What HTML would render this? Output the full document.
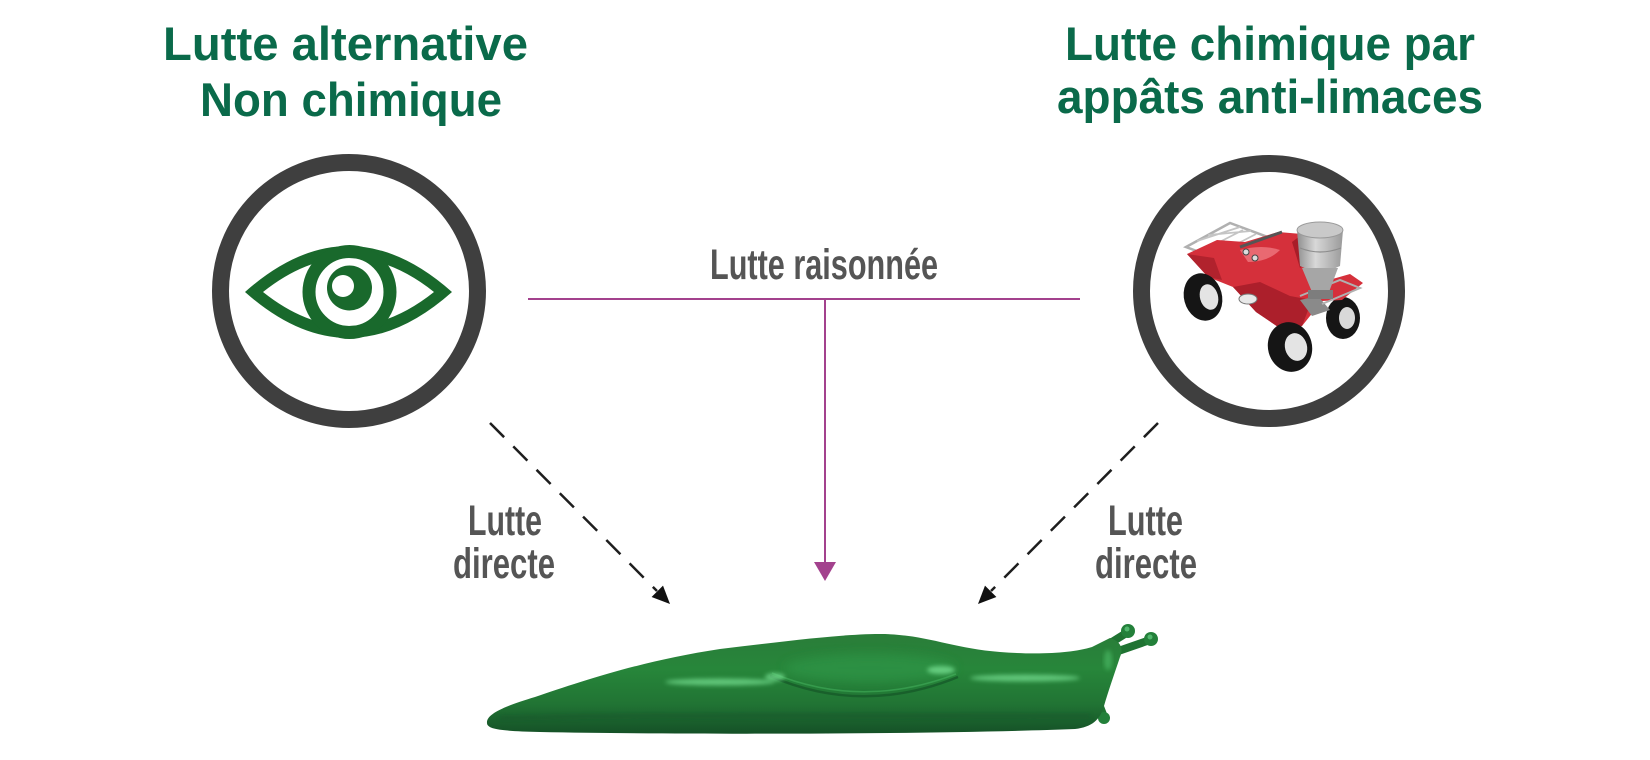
<!DOCTYPE html>
<html>
<head>
<meta charset="utf-8">
<style>
  html, body { margin: 0; padding: 0; background: #ffffff; }
  body { width: 1650px; height: 760px; overflow: hidden; }
  svg { display: block; }
  .title { font-family: "Liberation Sans", sans-serif; font-weight: bold; font-size: 47px; fill: #0a6a4a; }
  .lbl { font-family: "Liberation Sans Narrow", "Liberation Sans", sans-serif; font-weight: bold; font-size: 43px; fill: #555555; }
</style>
</head>
<body>
<svg width="1650" height="760" viewBox="0 0 1650 760" xmlns="http://www.w3.org/2000/svg">
  <defs>
    <linearGradient id="slugG" x1="0" y1="0" x2="0" y2="1">
      <stop offset="0" stop-color="#2a7d39"/>
      <stop offset="0.35" stop-color="#27863a"/>
      <stop offset="0.7" stop-color="#217434"/>
      <stop offset="1" stop-color="#155127"/>
    </linearGradient>
    <linearGradient id="hopG" x1="0" y1="0" x2="1" y2="0">
      <stop offset="0" stop-color="#8f8f8f"/>
      <stop offset="0.4" stop-color="#d8d8d8"/>
      <stop offset="1" stop-color="#9a9a9a"/>
    </linearGradient>
    <filter id="blur2" x="-20%" y="-200%" width="140%" height="500%"><feGaussianBlur stdDeviation="2"/></filter>
    <filter id="blur5" x="-30%" y="-100%" width="160%" height="300%"><feGaussianBlur stdDeviation="5"/></filter>
  </defs>

  <!-- Titles -->
  <text class="title" x="163" y="60" textLength="365" lengthAdjust="spacingAndGlyphs">Lutte alternative</text>
  <text class="title" x="200" y="116" textLength="302" lengthAdjust="spacingAndGlyphs">Non chimique</text>
  <text class="title" x="1065" y="60" textLength="410" lengthAdjust="spacingAndGlyphs">Lutte chimique par</text>
  <text class="title" x="1057" y="113" textLength="426" lengthAdjust="spacingAndGlyphs">appâts anti-limaces</text>

  <!-- Left circle with eye -->
  <circle cx="349" cy="291" r="128.5" fill="#ffffff" stroke="#3f3f3f" stroke-width="17"/>
  <path fill="#19692c" fill-rule="evenodd"
        d="M245,292 Q348.5,200 452,292 Q348.5,384 245,292 Z
           M263,292 Q348.5,224 434,292 Q348.5,360 263,292 Z"/>
  <circle cx="349.5" cy="292" r="40.5" fill="none" stroke="#19692c" stroke-width="13"/>
  <circle cx="349.5" cy="288" r="22.5" fill="#19692c"/>
  <circle cx="343" cy="286" r="11" fill="#ffffff"/>

  <!-- Right circle with ATV -->
  <circle cx="1269" cy="291" r="127.5" fill="#ffffff" stroke="#3f3f3f" stroke-width="17"/>
  <g>
    <!-- far right wheel -->
    <ellipse cx="1343" cy="318" rx="17" ry="21" fill="#151515"/>
    <ellipse cx="1347" cy="318" rx="8" ry="11" fill="#d9d9d9"/>
    <!-- rear rack -->
    <path d="M1186,247 L1230,223 L1273,239 L1229,263 Z" fill="none" stroke="#b0b0b0" stroke-width="2.5"/>
    <path d="M1197,241 L1240,227 M1208,235 L1251,231 M1200,252 L1243,230 M1212,257 L1256,234" stroke="#c4c4c4" stroke-width="1.8" fill="none"/>
    <!-- red body -->
    <path d="M1187,254 L1217,240 L1245,242 L1278,232 L1302,234 L1309,262 L1322,282 L1350,274 L1363,283 L1342,300 L1322,301 L1302,326 L1284,331 L1256,312 L1233,287 L1208,277 Z" fill="#d5303b"/>
    <path d="M1233,287 L1256,312 L1284,331 L1302,326 L1312,300 L1290,296 L1260,282 Z" fill="#ac1f2b"/>
    <path d="M1187,254 L1208,277 L1222,280 L1214,258 Z" fill="#b1222d"/>
    <path d="M1300,236 L1309,262 L1300,268 L1292,242 Z" fill="#a81d28"/>
    <path d="M1240,250 Q1262,244 1280,250 Q1268,262 1248,262 Z" fill="#ee7880" opacity="0.8"/>
    <!-- handlebars -->
    <path d="M1240,247 L1282,232" stroke="#555" stroke-width="3" fill="none"/>
    <circle cx="1246" cy="252" r="3" fill="#ddd" stroke="#444" stroke-width="1"/>
    <circle cx="1255" cy="258" r="3" fill="#ddd" stroke="#444" stroke-width="1"/>
    <!-- engine silver -->
    <ellipse cx="1248" cy="299" rx="9" ry="5" fill="#e8e8e8" stroke="#777" stroke-width="1"/>
    <path d="M1300,300 L1318,296 L1330,310 L1312,316 Z" fill="#8a8a8a"/>
    <!-- front rack -->
    <path d="M1300,296 L1340,280 L1360,288 L1322,304" fill="none" stroke="#b0b0b0" stroke-width="2"/>
    <!-- left wheel -->
    <ellipse cx="1203" cy="297" rx="19" ry="24" fill="#151515" transform="rotate(-15 1203 297)"/>
    <ellipse cx="1209" cy="297" rx="9" ry="13" fill="#e4e4e4" transform="rotate(-15 1209 297)"/>
    <!-- bottom wheel -->
    <ellipse cx="1290" cy="347" rx="22" ry="25" fill="#151515" transform="rotate(-15 1290 347)"/>
    <ellipse cx="1296" cy="347" rx="11" ry="14" fill="#e4e4e4" transform="rotate(-15 1296 347)"/>
    <!-- hopper -->
    <path d="M1297,230 L1300,266 Q1320,276 1340,266 L1343,230 Z" fill="url(#hopG)"/>
    <ellipse cx="1320" cy="230" rx="23" ry="8" fill="#c9c9c9" stroke="#9a9a9a" stroke-width="1"/>
    <path d="M1300,248 Q1320,256 1341,248" stroke="#8c8c8c" stroke-width="1.2" fill="none"/>
    <path d="M1302,268 L1312,292 L1329,292 L1338,268 Z" fill="#a6a6a6"/>
    <rect x="1308" y="290" width="25" height="9" fill="#7d7d7d"/>
  </g>

  <!-- Lutte raisonnée connector -->
  <text class="lbl" x="710" y="279" textLength="228" lengthAdjust="spacingAndGlyphs">Lutte raisonnée</text>
  <line x1="528" y1="299" x2="1080" y2="299" stroke="#a3418d" stroke-width="2"/>
  <line x1="825" y1="299" x2="825" y2="564" stroke="#a3418d" stroke-width="2"/>
  <polygon points="814,562 836,562 825,581" fill="#a3418d"/>

  <!-- Dashed arrows -->
  <line x1="490" y1="423" x2="657" y2="591" stroke="#1e1e1e" stroke-width="2.5" stroke-dasharray="20 13"/>
  <polygon points="670,604 651.6,597 663,585.6" fill="#111"/>
  <line x1="1158" y1="423" x2="991" y2="591" stroke="#1e1e1e" stroke-width="2.5" stroke-dasharray="20 13"/>
  <polygon points="978,604 996.4,597 985,585.6" fill="#111"/>

  <!-- Lutte directe labels -->
  <text class="lbl" x="468" y="535" textLength="74" lengthAdjust="spacingAndGlyphs">Lutte</text>
  <text class="lbl" x="453" y="578" textLength="102" lengthAdjust="spacingAndGlyphs">directe</text>
  <text class="lbl" x="1108" y="535" textLength="75" lengthAdjust="spacingAndGlyphs">Lutte</text>
  <text class="lbl" x="1095" y="578" textLength="102" lengthAdjust="spacingAndGlyphs">directe</text>

  <!-- Slug -->
  <g>
    <!-- tentacles -->
    <line x1="1096" y1="652" x2="1128" y2="632" stroke="#1f7332" stroke-width="8" stroke-linecap="round"/>
    <line x1="1104" y1="656" x2="1150" y2="640" stroke="#1f7332" stroke-width="8" stroke-linecap="round"/>
    <circle cx="1128" cy="631" r="7" fill="#23803a"/>
    <circle cx="1151" cy="639" r="7" fill="#23803a"/>
    <circle cx="1127" cy="629" r="2.5" fill="#5cc47a" opacity="0.8"/>
    <circle cx="1150" cy="637" r="2.5" fill="#5cc47a" opacity="0.8"/>
    <line x1="1099" y1="704" x2="1104" y2="717" stroke="#1f7332" stroke-width="8" stroke-linecap="round"/>
    <circle cx="1104" cy="718" r="6" fill="#23803a"/>
    <!-- body -->
    <path fill="url(#slugG)"
          d="M487,723
             C486,714 505,706 535,697
             C580,682 640,661 720,649
             C780,642 840,634 880,634
             C925,634 950,648 1000,652
             C1040,655 1072,653 1092,647
             L1110,638
             C1120,641 1124,648 1120,657
             C1114,675 1108,692 1104,706
             C1100,720 1092,727 1075,729
             C950,734 700,735 540,732
             C505,731 487,730 487,723 Z"/>
    <!-- lighter mantle area -->
    <ellipse cx="870" cy="668" rx="85" ry="14" fill="#2f9446" opacity="0.7" filter="url(#blur5)"/>
    <!-- lower darker band -->
    <path d="M500,718 C650,714 900,716 1090,716" stroke="#14502a" stroke-width="3" fill="none" opacity="0.5" filter="url(#blur2)"/>
    <!-- mantle edge -->
    <path d="M770,676 Q862,716 958,677" stroke="#175a29" stroke-width="2.5" fill="none" opacity="0.8"/>
    <path d="M772,673 Q862,710 956,674" stroke="#48b862" stroke-width="1.5" fill="none" opacity="0.5"/>
    <!-- highlights -->
    <ellipse cx="720" cy="682" rx="55" ry="3.5" fill="#6fd88a" opacity="0.8" filter="url(#blur2)"/>
    <ellipse cx="775" cy="677" rx="10" ry="4" fill="#6fd88a" opacity="0.8" filter="url(#blur2)"/>
    <ellipse cx="941" cy="670" rx="14" ry="4" fill="#6fd88a" opacity="0.85" filter="url(#blur2)"/>
    <ellipse cx="1025" cy="678" rx="55" ry="3.5" fill="#6fd88a" opacity="0.8" filter="url(#blur2)"/>
    <ellipse cx="1108" cy="660" rx="4" ry="10" fill="#4fbf6a" opacity="0.6" filter="url(#blur2)"/>
  </g>
</svg>
</body>
</html>
